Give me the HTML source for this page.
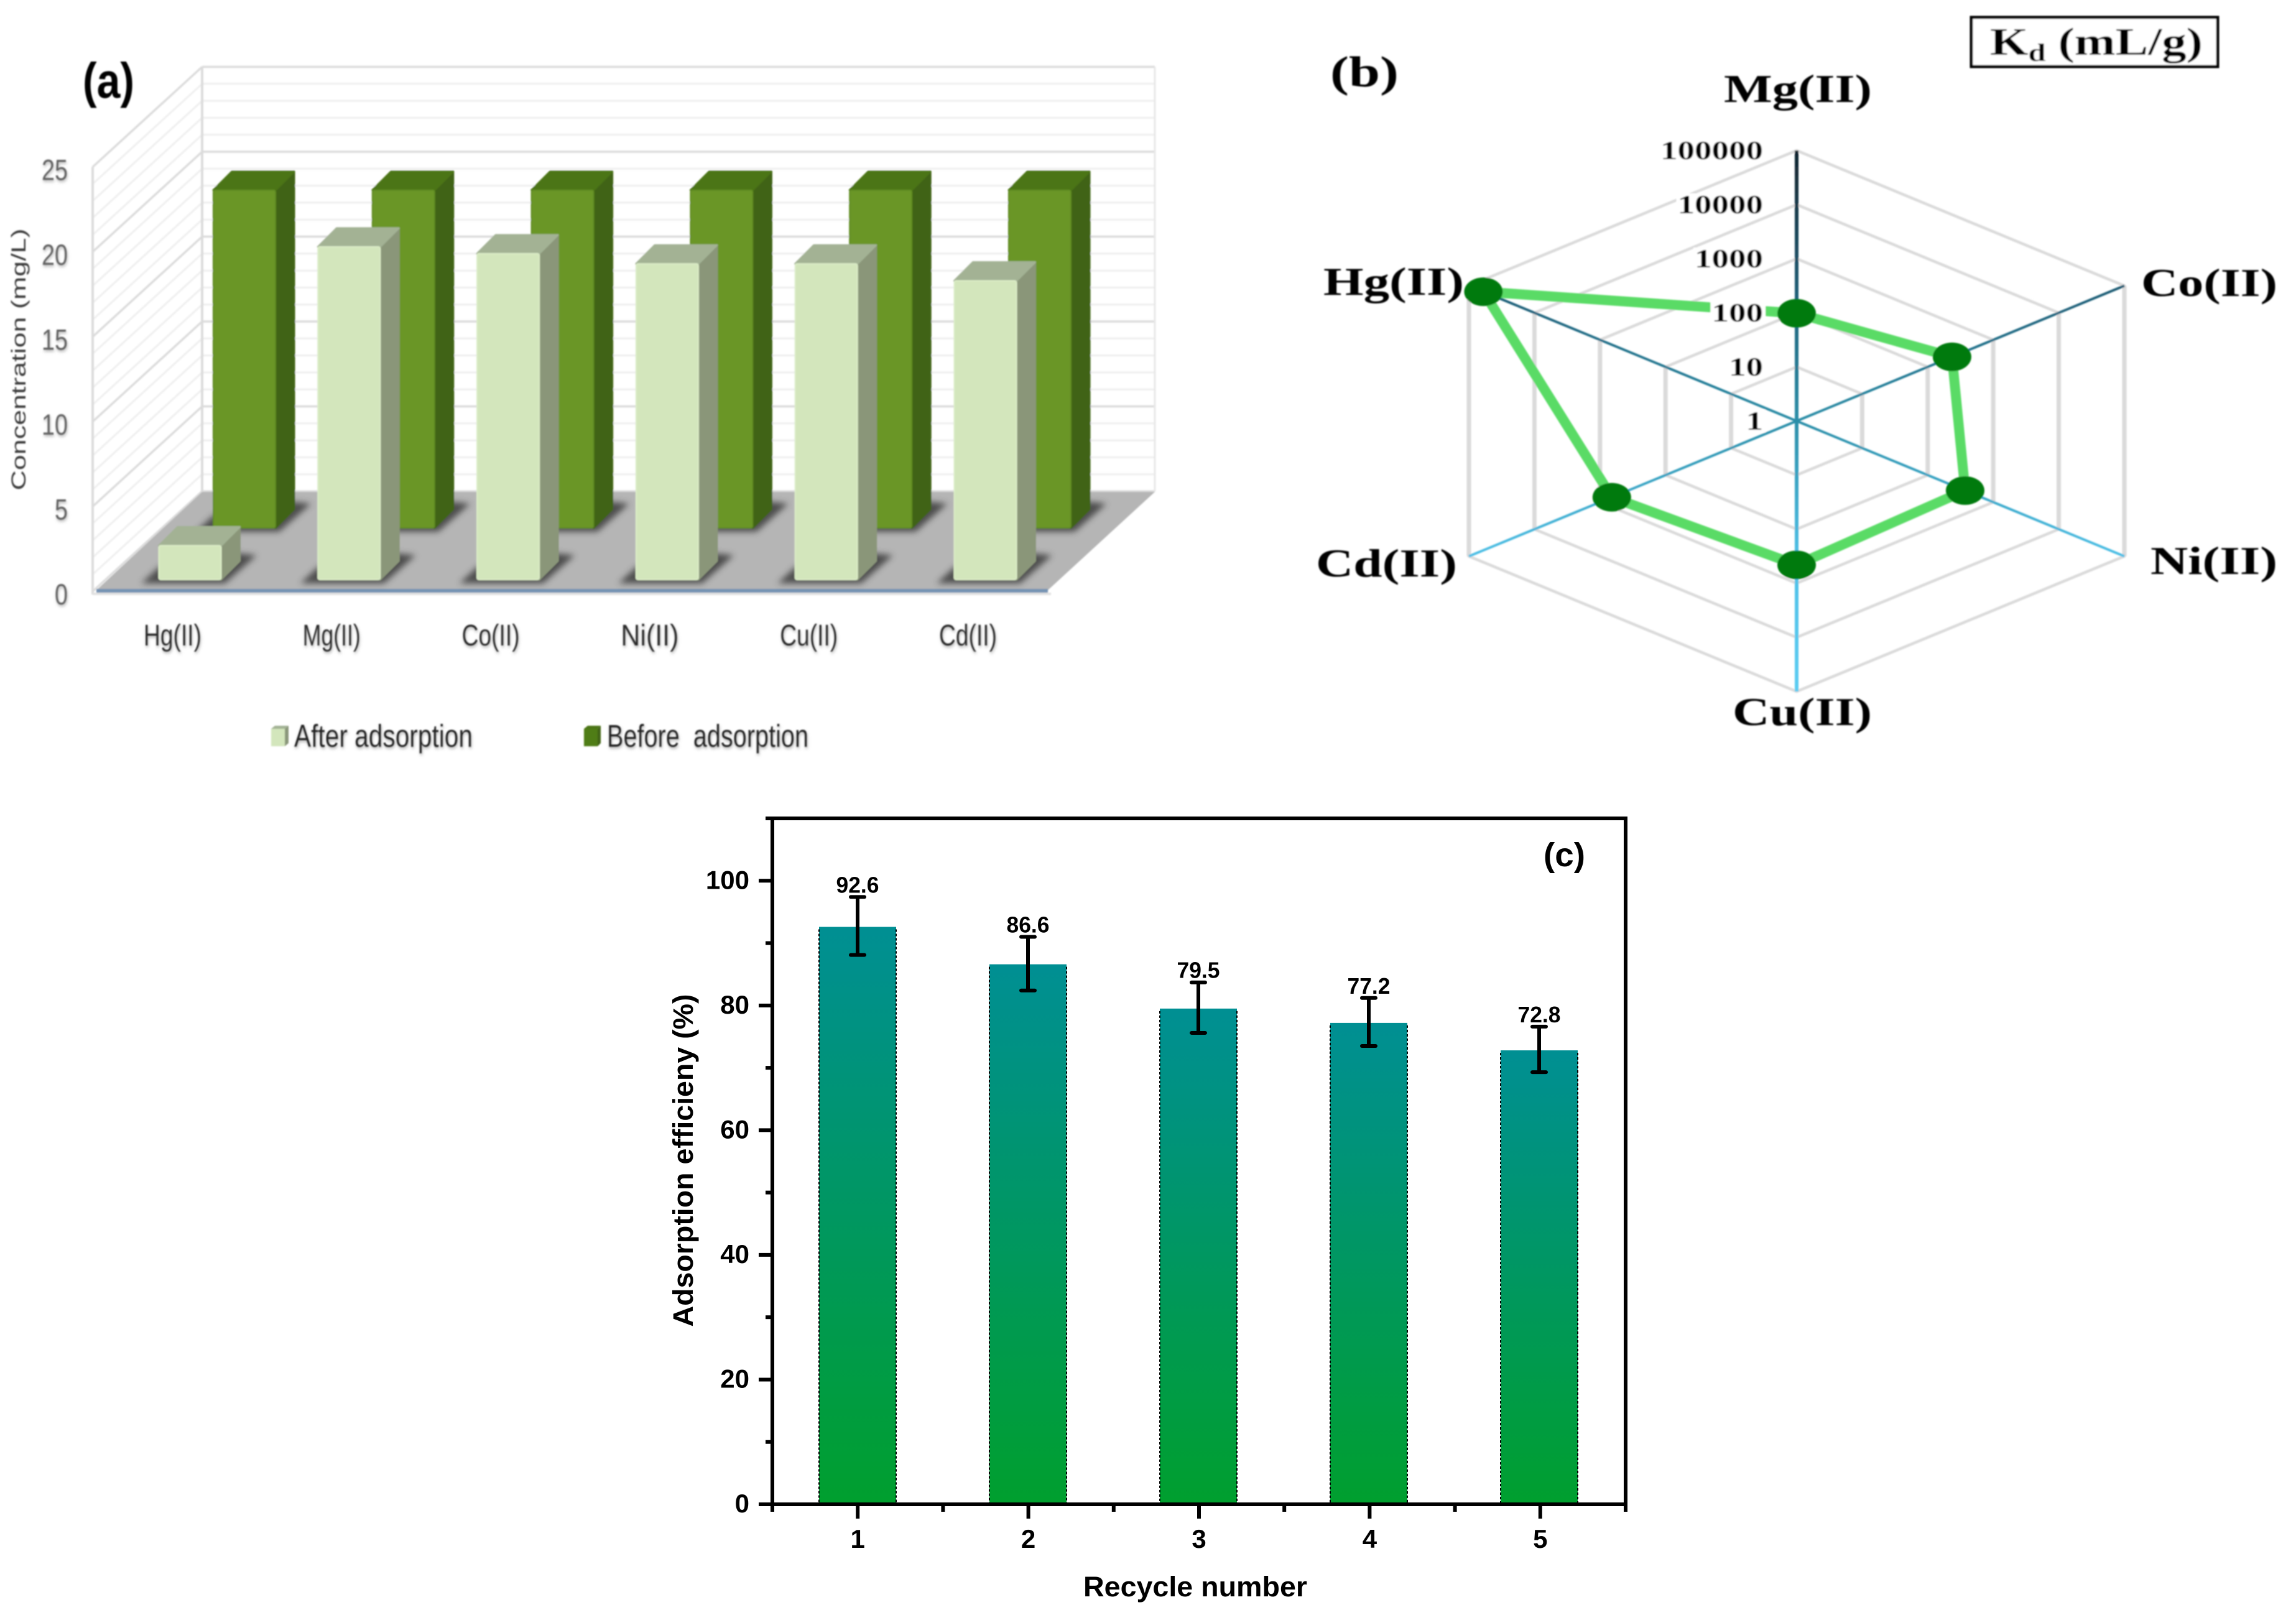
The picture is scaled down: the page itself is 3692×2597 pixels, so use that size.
<!DOCTYPE html>
<html>
<head>
<meta charset="utf-8">
<title>Adsorption charts</title>
<style>
html,body{margin:0;padding:0;background:#fff;}
svg{display:block;}
text{white-space:pre;}
</style>
</head>
<body>
<svg id="fig" xmlns="http://www.w3.org/2000/svg" width="3692" height="2597" viewBox="0 0 3692 2597">
<defs>
<linearGradient id="cBarGrad" x1="0" y1="0" x2="0" y2="1"><stop offset="0" stop-color="#008f93"/><stop offset="1" stop-color="#009f2e"/></linearGradient>
<linearGradient id="spokeGrad" gradientUnits="userSpaceOnUse" x1="0" y1="242" x2="0" y2="1112"><stop offset="0" stop-color="#10222c"/><stop offset="0.27" stop-color="#1f5f78"/><stop offset="0.5" stop-color="#2b8ea8"/><stop offset="0.75" stop-color="#4dbfe6"/><stop offset="1" stop-color="#5accf2"/></linearGradient>
<filter id="soft" filterUnits="userSpaceOnUse" x="0" y="0" width="3692" height="1300"><feGaussianBlur stdDeviation="1.1"/></filter>
<filter id="shadowBlur" x="-30%" y="-60%" width="160%" height="220%"><feGaussianBlur stdDeviation="5"/></filter>
<filter id="textShadow" x="-20%" y="-20%" width="140%" height="150%"><feDropShadow dx="1" dy="3" stdDeviation="2" flood-color="#888" flood-opacity="0.6"/></filter>
</defs>
<g id="panelA" filter="url(#soft)">
<text x="133" y="157" font-family="'Liberation Sans',sans-serif" font-weight="bold" font-size="80" textLength="83" lengthAdjust="spacingAndGlyphs" fill="#000">(a)</text>
<text transform="translate(41,578) rotate(-90)" text-anchor="middle" font-family="'Liberation Sans',sans-serif" font-size="32" textLength="421" lengthAdjust="spacingAndGlyphs" fill="#3c3c3c">Concentration (mg/L)</text>
<g>
<rect x="436" y="1172" width="22" height="28" fill="#d3e6bc"/><polygon points="458,1172 464,1167 464,1195 458,1200" fill="#8a9679"/><polygon points="436,1172 442,1167 464,1167 458,1172" fill="#a3b294"/>
<text filter="url(#textShadow)" x="473" y="1201" font-family="'Liberation Sans',sans-serif" font-size="51" textLength="287" lengthAdjust="spacingAndGlyphs" fill="#222">After adsorption</text>
</g>
<g>
<rect x="939" y="1172" width="22" height="28" fill="#4f7d18"/><polygon points="961,1172 966,1167 966,1195 961,1200" fill="#406313"/><polygon points="939,1172 945,1167 966,1167 961,1172" fill="#4b7518"/>
<text filter="url(#textShadow)" x="976" y="1201" font-family="'Liberation Sans',sans-serif" font-size="51" textLength="324" lengthAdjust="spacingAndGlyphs" fill="#222">Before  adsorption</text>
</g>
</g>
<g id="panelB" filter="url(#soft)">
<text x="2139" y="139" font-family="'Liberation Serif',serif" font-weight="bold" font-size="70" textLength="110" lengthAdjust="spacingAndGlyphs" fill="#000">(b)</text>
<rect x="3170" y="28" width="396" height="79" fill="#fff" stroke="#000" stroke-width="5"/>
<text x="3200" y="88" font-family="'Liberation Serif',serif" font-weight="bold" font-size="62" textLength="342" lengthAdjust="spacingAndGlyphs" fill="#000">K<tspan font-size="40" dy="10">d</tspan><tspan dy="-10"> (mL/g)</tspan></text>
<text x="2891" y="164" text-anchor="middle" font-family="'Liberation Serif',serif" font-weight="bold" font-size="63" textLength="238" lengthAdjust="spacingAndGlyphs" fill="#000">Mg(II)</text>
<text x="3552.5" y="476" text-anchor="middle" font-family="'Liberation Serif',serif" font-weight="bold" font-size="63" textLength="219" lengthAdjust="spacingAndGlyphs" fill="#000">Co(II)</text>
<text x="3560" y="923" text-anchor="middle" font-family="'Liberation Serif',serif" font-weight="bold" font-size="63" textLength="204" lengthAdjust="spacingAndGlyphs" fill="#000">Ni(II)</text>
<text x="2898" y="1166" text-anchor="middle" font-family="'Liberation Serif',serif" font-weight="bold" font-size="63" textLength="224" lengthAdjust="spacingAndGlyphs" fill="#000">Cu(II)</text>
<text x="2229.5" y="927" text-anchor="middle" font-family="'Liberation Serif',serif" font-weight="bold" font-size="63" textLength="227" lengthAdjust="spacingAndGlyphs" fill="#000">Cd(II)</text>
<text x="2241" y="474" text-anchor="middle" font-family="'Liberation Serif',serif" font-weight="bold" font-size="63" textLength="226" lengthAdjust="spacingAndGlyphs" fill="#000">Hg(II)</text>
</g>
<g id="panelC">
<text x="2482" y="1393" font-family="'Liberation Sans',sans-serif" font-weight="bold" font-size="54" textLength="67" lengthAdjust="spacingAndGlyphs" fill="#000">(c)</text>
<text transform="translate(1114,1866) rotate(-90)" text-anchor="middle" font-family="'Liberation Sans',sans-serif" font-weight="bold" font-size="45" textLength="535" lengthAdjust="spacingAndGlyphs" fill="#000">Adsorption efficieny (%)</text>
<text x="1922" y="2567" text-anchor="middle" font-family="'Liberation Sans',sans-serif" font-weight="bold" font-size="45" textLength="360" lengthAdjust="spacingAndGlyphs" fill="#000">Recycle number</text>
</g>
</svg>
<script>
// ---- Panel (a) data ----
var aCategories = ['Hg(II)', 'Mg(II)', 'Co(II)', 'Ni(II)', 'Cu(II)', 'Cd(II)'];
var aAfter = [2.0, 19.6, 19.2, 18.6, 18.6, 17.6];
var aBefore = [19.9, 19.9, 19.9, 19.9, 19.9, 19.9];
var aTickLabels = [0, 5, 10, 15, 20, 25];
var aGridLevels = [0, 1, 2, 3, 4, 5, 6, 7, 8, 9, 10, 11, 12, 13, 14, 15, 16, 17, 18, 19, 20, 21, 22, 23, 24, 25];
// ---- Panel (b) data ----
var bCategories = ['Mg(II)', 'Co(II)', 'Ni(II)', 'Cu(II)', 'Cd(II)', 'Hg(II)'];
var bKd = [98, 235, 372, 457, 660, 60000];
var bTickLabels = [1, 10, 100, 1000, 10000, 100000];
// ---- Panel (c) data ----
var cCycles = [1, 2, 3, 4, 5];
var cEfficiency = [92.6, 86.6, 79.5, 77.2, 72.8];
var cPrinted = ['92.6', '86.6', '79.5', '77.2', '72.8'];
var cErrTop = [97.4, 91.0, 83.7, 81.2, 76.6];
var cErrBottom = [88.1, 82.4, 75.6, 73.5, 69.3];
var cMajorY = [0, 20, 40, 60, 80, 100];
var cMinorY = [10, 30, 50, 70, 90, 110];
var cMinorX = [0.5, 1.5, 2.5, 3.5, 4.5, 5.5];

var NS = 'http://www.w3.org/2000/svg';
function mk(tag, attrs, parent) {
  var e = document.createElementNS(NS, tag);
  for (var k in attrs) e.setAttribute(k, attrs[k]);
  parent.appendChild(e);
  return e;
}
var gA = document.getElementById('panelA');
var gB = document.getElementById('panelB');
var gC = document.getElementById('panelC');

// ===== Panel A: 3-D column chart =====
var aUnit = 27.3, aFrontX = 149, aFrontY = 951, aDX = 176, aDY = 161;
function aFy(v) { return aFrontY - v * aUnit; }
function aBy(v) { return aFy(v) - aDY; }
var aBackL = aFrontX + aDX, aBackR = 1857;
var aGrid = mk('g', {}, gA);


aGridLevels.forEach(function (v) {
  var major = v % 5 === 0;
  var c = major ? '#dcdcdc' : '#efefef', w = major ? 3.5 : 3;
  var h = mk('line', { x1: aBackL, x2: aBackR, y1: aBy(v), y2: aBy(v), stroke: c, 'stroke-width': w }, aGrid);
  
  
  var s = mk('line', { x1: aFrontX, y1: aFy(v), x2: aBackL, y2: aBy(v), stroke: c, 'stroke-width': w }, aGrid);
  
  
});
var e1 = mk('line', { x1: aBackL, x2: aBackL, y1: aBy(25), y2: aBy(0), stroke: '#dcdcdc', 'stroke-width': 4 }, aGrid);


var e2 = mk('line', { x1: aFrontX, x2: aFrontX, y1: aFy(25), y2: aFy(0) + 5, stroke: '#dcdcdc', 'stroke-width': 4 }, aGrid);


var e3 = mk('line', { x1: aBackR, x2: aBackR, y1: aBy(25), y2: aBy(0), stroke: '#e8e8e8', 'stroke-width': 3 }, aGrid);


var floor = mk('polygon', { points: [[155, aFrontY - 2], [aBackL, aBy(0) + 1], [aBackR, aBy(0) + 1], [1685, aFrontY - 2]].join(' '), fill: '#b5b5b5' }, gA);


var lineBelow = mk('line', { x1: aFrontX, x2: 1690, y1: aFrontY + 4, y2: aFrontY + 4, stroke: '#e2e2e2', 'stroke-width': 4 }, gA);


var lineBlue = mk('line', { x1: 155, x2: 1685, y1: aFrontY - 1, y2: aFrontY - 1, stroke: '#7493b3', 'stroke-width': 6 }, gA);



var barStep = 255.8, barW = 100, depthX = 30, depthY = 30;
function drawBar3D(name, x, bottom, v, front, top, side, light) {
  var h = v * aUnit, yTop = bottom - h;
  var g = mk('g', {}, gA);
  
  
  var sh = mk('polygon', { points: [[x - 28, bottom + 6], [x + barW + 6, bottom + 6], [x + barW + 57, bottom - 39], [x + barW + 30, bottom - 42], [x, bottom - 20]].join(' '), fill: '#3a3a3a', opacity: 0.85, filter: 'url(#shadowBlur)' }, g);
  
  
  var sd = mk('polygon', { points: [[x + barW, yTop], [x + barW + depthX, yTop - depthY], [x + barW + depthX, bottom - depthY], [x + barW, bottom]].join(' '), fill: side, stroke: side, 'stroke-width': 3, 'stroke-linejoin': 'round' }, g);
  
  
  var tp = mk('polygon', { points: [[x, yTop], [x + depthX, yTop - depthY], [x + barW + depthX, yTop - depthY], [x + barW, yTop]].join(' '), fill: top, stroke: top, 'stroke-width': 3, 'stroke-linejoin': 'round' }, g);
  
  
  var fr = mk('rect', { x: x, y: yTop, width: barW, height: h, rx: 3, fill: front, stroke: light, 'stroke-width': 2 }, g);
  
  
}
aCategories.forEach(function (c, i) {
  drawBar3D('bar-before-' + c, 343 + i * barStep, 849, aBefore[i], '#6a9627', '#4b7518', '#406313', '#5f8a22');
});
aCategories.forEach(function (c, i) {
  drawBar3D('bar-after-' + c, 255.5 + i * barStep, 932, aAfter[i], '#d3e6bc', '#a3b294', '#8a9679', '#dcedc8');
  var t = mk('text', { x: 277.5 + i * barStep, y: 1038, 'text-anchor': 'middle', 'font-family': "'Liberation Sans',sans-serif", 'font-size': 48, textLength: 93, lengthAdjust: 'spacingAndGlyphs', fill: '#2a2a2a', filter: 'url(#textShadow)' }, gA);
  
  
  t.textContent = c;
});
aTickLabels.forEach(function (v) {
  var s = String(v);
  var t = mk('text', { x: 109, y: aFy(v) + 21, 'text-anchor': 'end', 'font-family': "'Liberation Sans',sans-serif", 'font-size': 47, textLength: s.length * 21, lengthAdjust: 'spacingAndGlyphs', fill: '#636363', filter: 'url(#textShadow)' }, gA);
  
  
  t.textContent = s;
});

// ===== Panel B: radar chart (log scale) =====
var bCx = 2889, bCy = 677, bRx = 608.5, bRy = 435, bDecades = 5;
function bRadius(v) { return Math.log10(v) / bDecades; }
function bPoint(i, frac) {
  var a = i * Math.PI / 3;
  return [bCx + Math.sin(a) * bRx * frac, bCy - Math.cos(a) * bRy * frac];
}
var bGrid = mk('g', {}, gB);


bTickLabels.forEach(function (v) {
  if (v === 1) return;
  var f = bRadius(v);
  var pts = bCategories.map(function (c, i) { return bPoint(i, f).join(','); }).join(' ');
  var p = mk('polygon', { points: pts, fill: 'none', stroke: '#dadada', 'stroke-width': 4.5 }, bGrid);
  
  
  [[1, 2], [5, 4]].forEach(function (pair) {
    var a = bPoint(pair[0], f), b = bPoint(pair[1], f);
    var edge = mk('line', { x1: a[0], y1: a[1], x2: b[0], y2: b[1], stroke: '#dadada', 'stroke-width': 7 }, bGrid);
    
    
  });
});
bCategories.forEach(function (c, i) {
  var end = bPoint(i, 1);
  var l = mk('line', { x1: bCx, y1: bCy, x2: end[0] + 0.01, y2: end[1], stroke: 'url(#spokeGrad)', 'stroke-width': i % 3 === 0 ? 6 : 4 }, gB);
  
  
});
var bPts = bKd.map(function (v, i) { return bPoint(i, bRadius(v)); });
var bPoly = mk('polygon', { points: bPts.map(function (p) { return p.join(','); }).join(' '), fill: 'none', stroke: '#5adb66', 'stroke-width': 16, 'stroke-linejoin': 'round' }, gB);


bTickLabels.forEach(function (v) {
  var s = String(v), w = s.length * 27.5;
  var yc = bCy - bRy * bRadius(v);
  var r = mk('rect', { x: 2835 - w - 2, y: yc - 18, width: w + 6, height: 36, fill: '#fff' }, gB);
  
  
  var t = mk('text', { x: 2835, y: yc + 14, 'text-anchor': 'end', 'font-family': "'Liberation Serif',serif", 'font-weight': 'bold', 'font-size': 42, textLength: w, lengthAdjust: 'spacingAndGlyphs', fill: '#000' }, gB);
  
  
  t.textContent = s;
});
bPts.forEach(function (p) {
  var m = mk('ellipse', { cx: p[0], cy: p[1], rx: 31, ry: 23, fill: '#047a10' }, gB);
  
  
});

// ===== Panel C: bars with error bars =====
var cLeft = 1242, cRight = 2614, cTop = 1316, cBase = 2419, cYMax = 110, cXMin = 0.5, cXMax = 5.5, cBarW = 124;
function cX(v) { return cLeft + (v - cXMin) / (cXMax - cXMin) * (cRight - cLeft); }
function cBarX(v) { return 1379 + (v - 1) * 274; }
function cY(v) { return cBase - v / cYMax * (cBase - cTop); }
var cFont = "'Liberation Sans',sans-serif";
cCycles.forEach(function (n, i) {
  var x = cBarX(n), y = cY(cEfficiency[i]);
  var b = mk('rect', { x: x - cBarW / 2, y: y, width: cBarW, height: cBase - y, fill: 'url(#cBarGrad)' }, gC);
  
  
  [-1, 1].forEach(function (d) {
    var ed = mk('line', { x1: x + d * cBarW / 2, x2: x + d * cBarW / 2, y1: y + 4, y2: cBase, stroke: '#000', 'stroke-width': 2, 'stroke-dasharray': '4 3' }, gC);
    
    
  });
  var eT = cY(cErrTop[i]), eB = cY(cErrBottom[i]);
  var st = mk('line', { x1: x, x2: x, y1: eT, y2: eB, stroke: '#000', 'stroke-width': 6 }, gC);
  
  
  [eT, eB].forEach(function (yy) {
    var cap = mk('line', { x1: x - 11, x2: x + 11, y1: yy, y2: yy, stroke: '#000', 'stroke-width': 6, 'stroke-linecap': 'round' }, gC);
    
    
  });
  var lab = mk('text', { x: x, y: eT - 7, 'text-anchor': 'middle', 'font-family': cFont, 'font-weight': 'bold', 'font-size': 36, textLength: 69, lengthAdjust: 'spacingAndGlyphs', fill: '#000' }, gC);
  
  
  lab.textContent = cPrinted[i];
  var tk = mk('line', { x1: cX(n), x2: cX(n), y1: cBase, y2: cBase + 23, stroke: '#000', 'stroke-width': 6 }, gC);
  
  
  var xl = mk('text', { x: cX(n), y: cBase + 70, 'text-anchor': 'middle', 'font-family': cFont, 'font-weight': 'bold', 'font-size': 42, fill: '#000' }, gC);
  
  
  xl.textContent = String(n);
});
cMinorX.forEach(function (v) {
  var tk = mk('line', { x1: cX(v), x2: cX(v), y1: cBase, y2: cBase + 12, stroke: '#000', 'stroke-width': 6 }, gC);
  
  
});
cMajorY.forEach(function (v) {
  var tk = mk('line', { x1: cLeft - 22, x2: cLeft, y1: cY(v), y2: cY(v), stroke: '#000', 'stroke-width': 6 }, gC);
  
  
  var yl = mk('text', { x: 1205, y: cY(v) + 13, 'text-anchor': 'end', 'font-family': cFont, 'font-weight': 'bold', 'font-size': 42, fill: '#000' }, gC);
  
  
  yl.textContent = String(v);
});
cMinorY.forEach(function (v) {
  var tk = mk('line', { x1: cLeft - 11, x2: cLeft, y1: cY(v), y2: cY(v), stroke: '#000', 'stroke-width': 6 }, gC);
  
  
});
var frame = mk('rect', { x: cLeft, y: cTop, width: cRight - cLeft, height: cBase - cTop, fill: 'none', stroke: '#000', 'stroke-width': 6 }, gC);


</script>
</body>
</html>
